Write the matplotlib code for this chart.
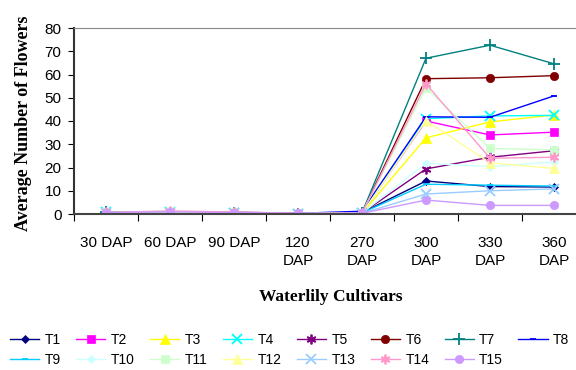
import numpy as np
import matplotlib.pyplot as plt

days = ["30 DAP", "60 DAP", "90 DAP", "120\nDAP", "270\nDAP", "300\nDAP", "330\nDAP", "360\nDAP"]

T1 = [0.8, 0.6, 0.5, 0.2, 0.6, 14.2, 11.8, 11.6]
T2 = [0.9, 1.0, 0.6, 0.2, 0.5, 40.0, 34.0, 35.2]
T3 = [0.5, 0.4, 0.4, 0.1, 0.3, 32.8, 39.6, 42.6]
T4 = [1.0, 0.7, 0.6, 0.2, 0.4, 41.0, 42.2, 42.4]
T5 = [0.6, 0.8, 0.5, 0.2, 0.4, 19.4, 24.4, 27.2]
T6 = [0.7, 0.9, 0.7, 0.2, 0.5, 58.2, 58.6, 59.5]
T7 = [0.8, 0.5, 0.6, 0.2, 0.5, 67.0, 72.6, 64.6]
T8 = [0.6, 0.5, 0.8, 0.3, 1.2, 41.8, 41.6, 50.8]
T9 = [0.8, 0.4, 0.5, 0.2, 0.5, 12.8, 12.4, 12.0]
T10 = [0.5, 0.8, 0.4, 0.2, 0.4, 21.8, 20.4, 22.4]
T11 = [0.7, 1.2, 0.8, 0.3, 0.4, 54.2, 28.2, 27.6]
T12 = [0.4, 0.6, 0.4, 0.1, 0.3, 40.2, 22.0, 19.6]
T13 = [0.6, 0.4, 0.3, 0.1, 0.3, 8.6, 10.0, 10.8]
T14 = [0.7, 1.3, 0.9, 0.3, 0.4, 56.0, 24.0, 24.4]
T15 = [0.6, 1.0, 0.6, 0.3, 0.3, 6.0, 3.7, 3.7]

names = ["T%d" % i for i in range(1, 16)]
series = [T1, T2, T3, T4, T5, T6, T7, T8, T9, T10, T11, T12, T13, T14, T15]
colors = ["#000080", "#FF00FF", "#FFFF00", "#00FFFF", "#800080", "#800000", "#008080", "#0000FF",
          "#00CCFF", "#CCFFFF", "#CCFFCC", "#FFFF99", "#99CCFF", "#FF99CC", "#CC99FF"]
star = (6, 2, 0)
markers = ["D", "s", "^", "x", star, "o", "+", "_", "_", "D", "s", "^", "x", star, "o"]
msizes = [4.5, 5.5, 7, 6.5, 7, 6, 8, 4.5, 4.5, 4.5, 5.5, 7, 6.5, 7, 6]

fig = plt.figure(figsize=(5.76, 3.70), dpi=100)
ax = fig.add_axes([74 / 576, 156 / 370, 512 / 576, 186 / 370])

x = np.arange(len(days))
handles = []
for s, n, c, m, ms in zip(series, names, colors, markers, msizes):
    thin = m in ("x", "+", "_") or isinstance(m, tuple)
    h, = ax.plot(x, s, color=c, marker=m, markersize=ms, linewidth=1.0, label=n,
                 markeredgewidth=1.3 if thin else 0.5, markeredgecolor=c)
    handles.append(h)

ax.set_xlim(-0.5, 7.5)
ax.set_ylim(0, 80)
ax.set_yticks(range(0, 81, 10))
ax.set_xticks(np.arange(-0.5, 8, 1))
ax.set_xticklabels([])
ax.set_xticks(x, minor=True)
ax.set_xticklabels(days, minor=True, fontsize=11, family="Liberation Sans", linespacing=1.3)
ax.tick_params(axis="x", which="major", length=5, direction="out", color="black")
ax.tick_params(axis="x", which="minor", length=0, pad=16)
ax.tick_params(axis="y", length=4, direction="out", labelsize=11, pad=5)
for lab in ax.get_yticklabels():
    lab.set_family("Liberation Sans")

ax.spines["top"].set_color("#888888")
ax.spines["right"].set_visible(False)
ax.spines["left"].set_color("#333333")
ax.spines["left"].set_linewidth(1.5)
ax.spines["bottom"].set_color("#444444")
ax.spines["bottom"].set_linewidth(1.5)

fig.text(24 / 576, 0.668, "Average Number of Flowers", rotation=90, ha="center", va="center",
         family="Liberation Serif", fontweight="bold", fontsize=13)
fig.text(0.575, 0.197, "Waterlily Cultivars", ha="center", va="center",
         family="Liberation Serif", fontweight="bold", fontsize=12.5)

# legend filled row by row (matplotlib fills columns first)
order = []
for j in range(8):
    order.append(j)
    if j + 8 < 15:
        order.append(j + 8)
leg = fig.legend([handles[i] for i in order], [names[i] for i in order],
                 loc="upper left", bbox_to_anchor=(10 / 576, 0.10), ncol=8, frameon=False,
                 prop={"family": "Liberation Sans", "size": 10}, handlelength=2.1,
                 columnspacing=1.1, handletextpad=0.4, labelspacing=0.45, borderpad=0,
                 borderaxespad=0)

fig.savefig("out.png", dpi=100)
